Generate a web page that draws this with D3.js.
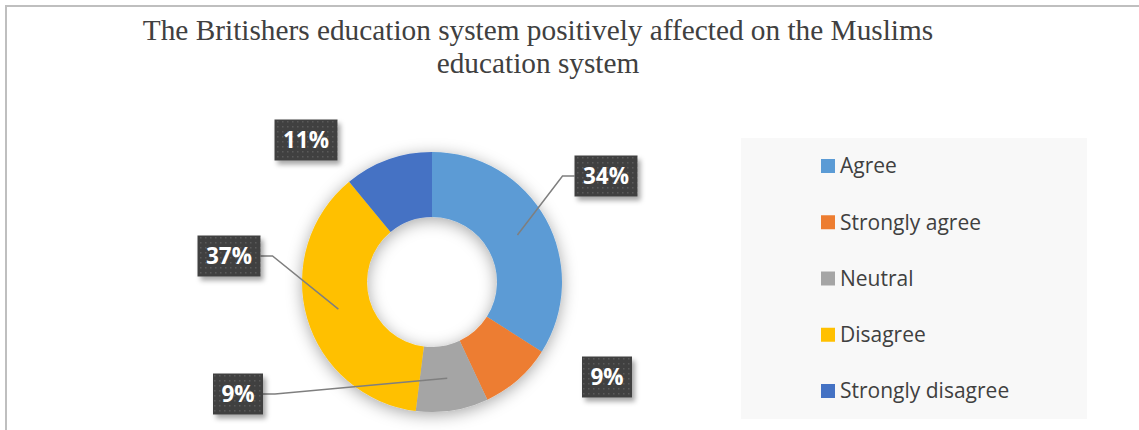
<!DOCTYPE html>
<html>
<head>
<meta charset="utf-8">
<script src="https://cdn.jsdelivr.net/npm/d3@7"></script>
<style>
  body { margin: 0; background: #fff; }
</style>
</head>
<body>
<div id="chart"></div>
<script>
// donut chart - british education system survey

const categories = ["Agree", "Strongly agree", "Neutral", "Disagree", "Strongly disagree"];
const values = [34, 9, 9, 37, 11];
const colors = ["#5b9bd5", "#ed7d31", "#a5a5a5", "#ffc000", "#4472c4"];
const titleLines = ["The Britishers education system positively affected on the Muslims", "education system"];

// where each data label box sits, relative to the donut centre (dragged by hand in the original)
const labelOffsets = [[174, -106], [175, 95], [-194, 112], [-203, -26], [-126, -142]];
const labelLeaders = [true, false, true, true, false];

var width = 1139;
var height = 430;
var cx = 432, cy = 282;
var outerR = 130, innerR = 65;

const svg = d3.select("#chart")
    .append("svg")
    .attr("width", width)
    .attr("height", height);

const defs = svg.append("defs");

// soft shadow round the ring
const shadow = defs.append("filter").attr("id", "ringShadow")
    .attr("x", "-30%").attr("y", "-30%").attr("width", "160%").attr("height", "160%");
shadow.append("feDropShadow")
    .attr("dx", 0).attr("dy", 3)
    .attr("stdDeviation", 8)
    .attr("flood-color", "#000")
    .attr("flood-opacity", 0.35);

// shadow under the label boxes
const boxShadow = defs.append("filter").attr("id", "boxShadow")
    .attr("x", "-20%").attr("y", "-20%").attr("width", "150%").attr("height", "160%");
boxShadow.append("feDropShadow")
    .attr("dx", 3).attr("dy", 4)
    .attr("stdDeviation", 2.5)
    .attr("flood-color", "#000")
    .attr("flood-opacity", 0.35);

// dotted dark fill for label boxes
const pat = defs.append("pattern").attr("id", "dots")
    .attr("width", 5).attr("height", 5)
    .attr("patternUnits", "userSpaceOnUse");
pat.append("rect").attr("width", 5).attr("height", 5).attr("fill", "#3f3f3f");
pat.append("rect").attr("x", 1).attr("y", 1).attr("width", 1.5).attr("height", 1.5).attr("fill", "#5a5a5a");

// chart frame (only top and left show in the crop)
svg.append("line")
    .attr("x1", 6).attr("y1", 6).attr("x2", width).attr("y2", 6)
    .attr("stroke", "#bfbfbf").attr("stroke-width", 2);
svg.append("line")
    .attr("x1", 6).attr("y1", 5).attr("x2", 6).attr("y2", height)
    .attr("stroke", "#bfbfbf").attr("stroke-width", 2);

// title
svg.append("text")
    .attr("text-anchor", "middle")
    .attr("font-family", "'Liberation Serif', 'Times New Roman', serif")
    .attr("font-size", 29.3)
    .attr("fill", "#404040")
    .selectAll("tspan")
    .data(titleLines)
    .enter()
    .append("tspan")
    .attr("x", 538)
    .attr("y", (d, i) => 40 + i * 33)
    .text(d => d);

// legend
const legend = svg.append("g");
legend.append("rect")
    .attr("x", 741).attr("y", 138)
    .attr("width", 346).attr("height", 281)
    .attr("fill", "#f8f8f8");

const legendY = d3.scalePoint()
    .domain(categories)
    .range([166, 391]);

const items = legend.selectAll("g.item")
    .data(categories)
    .enter()
    .append("g")
    .attr("class", "item")
    .attr("transform", d => `translate(821, ${legendY(d)})`);

items.append("rect")
    .attr("x", 0).attr("y", -7)
    .attr("width", 14).attr("height", 14)
    .attr("fill", (d, i) => colors[i]);

items.append("text")
    .attr("x", 19)
    .attr("dy", "0.35em")
    .attr("font-family", "'Open Sans', 'Noto Sans', sans-serif")
    .attr("font-size", 21)
    .attr("fill", "#404040")
    .text(d => d);

// donut
const pie = d3.pie().sort(null).value(d => d);
const arcs = pie(values);

const arc = d3.arc()
    .innerRadius(innerR)
    .outerRadius(outerR);

const donut = svg.append("g")
    .attr("transform", `translate(${cx}, ${cy})`);

donut.append("g")
    .attr("filter", "url(#ringShadow)")
    .selectAll("path")
    .data(arcs)
    .enter()
    .append("path")
    .attr("d", arc)
    .attr("fill", (d, i) => colors[i]);

function boxWidth(v) {
    return v >= 10 ? 63 : 50;
}

// leader lines
arcs.forEach(function(d, i) {
    if (!labelLeaders[i]) return;
    var c = arc.centroid(d);
    var off = labelOffsets[i];
    var w = boxWidth(values[i]);
    var side = off[0] > 0 ? -1 : 1;
    var ex = off[0] + side * w / 2;
    var ey = off[1];
    donut.append("path")
        .attr("d", `M${ex},${ey} L${ex + side * 12},${ey} L${c[0]},${c[1]}`)
        .attr("fill", "none")
        .attr("stroke", "#7f7f7f")
        .attr("stroke-width", 1.5);
});

// data labels
const labels = donut.selectAll("g.lbl")
    .data(arcs)
    .enter()
    .append("g")
    .attr("class", "lbl")
    .attr("transform", (d, i) => `translate(${labelOffsets[i][0]}, ${labelOffsets[i][1]})`);

labels.append("rect")
    .attr("x", d => -boxWidth(d.value) / 2)
    .attr("y", -20.5)
    .attr("width", d => boxWidth(d.value))
    .attr("height", 41)
    .attr("fill", "url(#dots)")
    .attr("filter", "url(#boxShadow)");

labels.append("text")
    .attr("text-anchor", "middle")
    .attr("dy", "0.36em")
    .attr("font-family", "'Open Sans', 'Noto Sans', sans-serif")
    .attr("font-weight", "bold")
    .attr("font-size", 22.5)
    .attr("fill", "#ffffff")
    .text(d => d.value + "%");
</script>
</body>
</html>
